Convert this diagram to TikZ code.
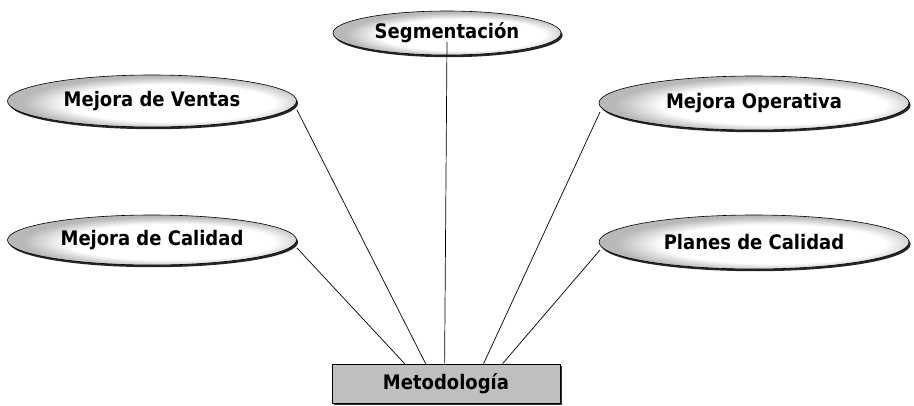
\documentclass[tikz,border=0pt]{standalone}
\usepackage{fontspec}
\setmainfont{DejaVu Sans}
\newfontfamily\labelfont{DejaVu Sans Condensed}
\usetikzlibrary{shapes.geometric,shadows,calc}

% soft grey rim that fades to white towards the middle of each ellipse
\pgfdeclareradialshading{rimfade}{\pgfpoint{5bp}{-3bp}}{%
  color(0bp)=(white); color(18bp)=(white); color(25bp)=(black!28);
  color(50bp)=(black!28)}

\tikzset{
  topic/.style={ellipse, draw=black, line width=0.6pt, shading=rimfade,
    inner sep=0pt, font=\labelfont\fontsize{20}{23}\selectfont\bfseries,
    drop shadow={shadow xshift=1.6pt, shadow yshift=-2.2pt,
      fill=black, opacity=0.85}},
  basebox/.style={draw=black, line width=0.8pt, fill=black!25,
    minimum width=228pt, minimum height=39pt, inner sep=0pt,
    font=\labelfont\fontsize{20}{23}\selectfont\bfseries,
    drop shadow={shadow xshift=1.5pt, shadow yshift=-1.5pt,
      fill=black, opacity=0.8}},
  link/.style={draw=black, line width=0.7pt}
}

\begin{document}
\begin{tikzpicture}[x=1pt, y=-1pt]
\useasboundingbox (0,0) rectangle (914,405);

\node[topic, minimum width=228pt, minimum height=44pt] (seg) at (447,33) {Segmentación};
\node[topic, minimum width=289pt, minimum height=52pt] (ventas) at (152,101) {Mejora de Ventas};
\node[topic, minimum width=310pt, minimum height=54pt] (oper) at (754,103) {Mejora Operativa};
\node[topic, minimum width=289pt, minimum height=50pt] (calidad) at (152,240) {Mejora de Calidad};
\node[topic, minimum width=310pt, minimum height=54pt] (planes) at (754,242) {Planes de Calidad};

\node[basebox] (meto) at (446,383.5) {Metodología};

% start points on the topics
\coordinate (sVen) at (297,110);
\coordinate (sCal) at (297,248);
\coordinate (sSeg) at (447,42);
\coordinate (sOpe) at (600,112);
\coordinate (sPla) at (600,250);

% landing points on the top edge of the base box
\coordinate (eCal) at ($(meto.north west)+(73,0)$);
\coordinate (eVen) at ($(meto.north west)+(94,0)$);
\coordinate (eSeg) at ($(meto.north west)+(113,0)$);
\coordinate (eOpe) at ($(meto.north west)+(152,0)$);
\coordinate (ePla) at ($(meto.north west)+(171,0)$);

\draw[link] (sVen) -- (eVen);
\draw[link] (sCal) -- (eCal);
\draw[link] (sSeg) -- (eSeg);
\draw[link] (sOpe) -- (eOpe);
\draw[link] (sPla) -- (ePla);
\end{tikzpicture}
\end{document}
